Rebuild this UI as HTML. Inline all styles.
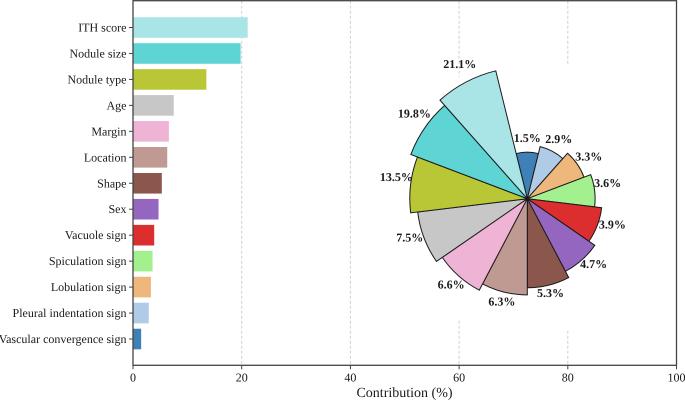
<!DOCTYPE html>
<html>
<head>
<meta charset="utf-8">
<style>
html,body{margin:0;padding:0;background:#fff;width:685px;height:400px;overflow:hidden}
svg{display:block;filter:blur(0.35px);text-rendering:geometricPrecision}
text{font-family:"Liberation Serif",serif;fill:#1a1a1a}
</style>
</head>
<body>
<svg id="chart" width="685" height="400" viewBox="0 0 685 400" xmlns="http://www.w3.org/2000/svg"></svg>
<script>
const categories = ["ITH score","Nodule size","Nodule type","Age","Margin","Location","Shape","Sex","Vacuole sign","Spiculation sign","Lobulation sign","Pleural indentation sign","Vascular convergence sign"];
const contributions = [21.1,19.8,13.5,7.5,6.6,6.3,5.3,4.7,3.9,3.6,3.3,2.9,1.5];
const colors = ["#a9e5e6","#5ed4d5","#b9c736","#c7c7c7","#eeb3d5","#bf9a93","#8b564c","#9566c0","#dc2e2e","#a2f08e","#eeb77c","#b0cbe8","#3f80b6"];
const xTicks = [0,20,40,60,80,100];

const NS = "http://www.w3.org/2000/svg";
const svg = document.getElementById("chart");
const plot = {left:133, right:676.5, top:0.7, bottom:365.3};
const polar = {cx:527.3, cy:198.7, bgY:198, bgR:139, r0:46.5, step:7.1};

function xScale(v){ return plot.left + v/100*(plot.right-plot.left); }
function yScale(i){ return 27.5 + i*25.96; }
function make(tag, attrs, text){
  const el = document.createElementNS(NS, tag);
  for (const k in attrs) el.setAttribute(k, attrs[k]);
  if (text !== undefined) el.textContent = text;
  svg.appendChild(el);
  return el;
}
function rankOf(i){
  return contributions.filter(function(v, j){
    return v < contributions[i] || (v === contributions[i] && j > i);
  }).length;
}
function polarPoint(r, deg){
  const a = deg*Math.PI/180;
  return [polar.cx + r*Math.sin(a), polar.cy - r*Math.cos(a)];
}
function labelPad(k){
  if (k < 5) return 14;
  if (k === 5) return 11;
  return 8 + (k-6)*1.8;
}
function labelLag(k){
  if (k >= 3 && k <= 5) return -4;
  if (k === 12) return 1;
  if (k >= 9) return 2.5;
  return 0;
}

// grid lines
xTicks.forEach(function(t){
  if (t === 0 || t === 100) return;
  const g = make("line",{x1:xScale(t),x2:xScale(t),y1:plot.top,y2:plot.bottom,stroke:"#cfcfcf","stroke-width":1,"stroke-dasharray":"3 2"});
  
  
});

// bars
categories.forEach(function(c,i){
  const b = make("rect",{x:plot.left,y:yScale(i)-10.3,width:xScale(contributions[i])-plot.left,height:20.6,fill:colors[i]});
  
  
  const tk = make("line",{x1:plot.left-4,x2:plot.left,y1:yScale(i),y2:yScale(i),stroke:"#444","stroke-width":1});
  
  
  const l = make("text",{x:plot.left-6.5,y:yScale(i)+4,"text-anchor":"end","font-size":"12px"},c);
  
  
});

// polar inset background
const bg = make("circle",{cx:polar.cx,cy:polar.bgY,r:polar.bgR,fill:"#fff"});



// wedges: clockwise from the top, smallest share first
const n = categories.length;
const width = 360/n;
for (let k=0;k<n;k++){
  const i = n-1-k;
  const r = polar.r0 + rankOf(i)*polar.step;
  const c = k*width;
  const p1 = polarPoint(r,c-width/2), p2 = polarPoint(r,c+width/2);
  const w = make("path",{d:"M"+polar.cx+" "+polar.cy+"L"+p1[0]+" "+p1[1]+"A"+r+" "+r+" 0 0 1 "+p2[0]+" "+p2[1]+"Z",fill:colors[i],stroke:"#1a1a1a","stroke-width":1,"stroke-linejoin":"miter"});
  
  
}
for (let k=0;k<n;k++){
  const i = n-1-k;
  const r = polar.r0 + rankOf(i)*polar.step;
  const p = polarPoint(r+labelPad(k),k*width+labelLag(k));
  const t = make("text",{x:p[0],y:p[1]+4,"text-anchor":"middle","font-size":"12px","font-weight":"bold"},contributions[i].toFixed(1)+"%");
  
  
}

// x ticks
xTicks.forEach(function(t){
  const tk = make("line",{x1:xScale(t),x2:xScale(t),y1:plot.bottom,y2:plot.bottom+4,stroke:"#444","stroke-width":1});
  
  
  const l = make("text",{x:xScale(t),y:381.5,"text-anchor":"middle","font-size":"12px"},String(t));
  
  
});

// frame
const frame = make("rect",{x:plot.left,y:plot.top,width:plot.right-plot.left,height:plot.bottom-plot.top,fill:"none",stroke:"#444","stroke-width":1.3});



const title = make("text",{x:404.5,y:397,"text-anchor":"middle","font-size":"14px"},"Contribution (%)");


</script>
</body>
</html>
